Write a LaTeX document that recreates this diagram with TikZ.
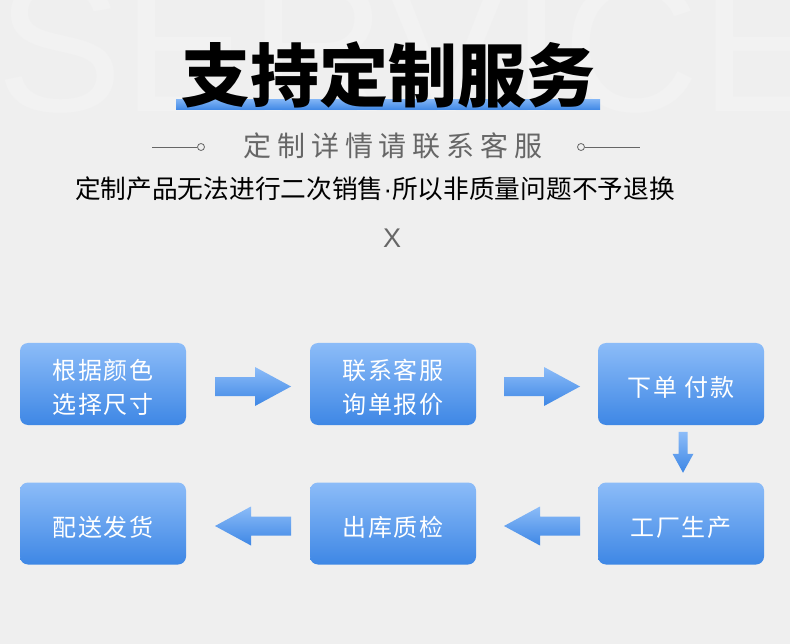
\documentclass[tikz,border=0pt]{standalone}
\usepackage{fontspec}
\setmainfont{Liberation Sans}
\newfontfamily\cjk{Noto Sans CJK SC}
\newfontfamily\cjkcaja[LetterSpace=8]{Noto Sans CJK SC}
\newfontfamily\cjksub[LetterSpace=21]{Noto Sans CJK SC}
\usetikzlibrary{calc}
\definecolor{fondo}{HTML}{EFEFEF}
\definecolor{azulclaro}{HTML}{8CBCF8}
\definecolor{azul}{HTML}{3E87E5}
\definecolor{gris}{HTML}{666666}
\newcommand\paso[1]{\raisebox{-6pt}[\height][\depth]{\begin{tabular}{@{}c@{}}#1\end{tabular}}}

\begin{document}
\begin{tikzpicture}[x=1pt, y=-1pt,
      box/.style={rounded corners=8pt, top color=azulclaro, bottom color=azul,
                  minimum width=166pt, minimum height=82pt, inner sep=0pt,
                  text=white, font=\cjkcaja\fontsize{24}{34}\selectfont},
      flecha/.pic={\path[top color=azulclaro, bottom color=azul]
          (-38,-9.5) -- (2,-9.5) -- (2,-19.5) -- (38,0) -- (2,19.5)
          -- (2,9.5) -- (-38,9.5) -- cycle;},
      flechaabajo/.pic={\path[top color=azulclaro, bottom color=azul]
          (-4.5,-20.5) -- (4.5,-20.5) -- (4.5,1.5) -- (10.5,1.5) -- (0,20.5)
          -- (-10.5,1.5) -- (-4.5,1.5) -- cycle;} ]
    \useasboundingbox[fill=fondo] (0,0) rectangle (790,644);
    % fondo: marca de agua y titulo
    \begin{scope}
      \clip (0,0) rectangle (790,644);
      \node[text=white!18!fondo, font=\fontsize{190}{190}\selectfont,
            anchor=base west, inner sep=0pt] (marca) at (-4,112) {SERVICE};
    \end{scope}
    \fill[top color=azulclaro!80!azul, bottom color=azul] (176,100) rectangle (600,110);
    \node[font=\cjk\bfseries\fontsize{69}{70}\selectfont, inner sep=0pt] (titulo) at (388,75) {支持定制服务};
    \node[text=gris, font=\cjksub\fontsize{28}{30}\selectfont, inner sep=0pt] (sub) at (393,146) {定制详情请联系客服};
    \node[draw=gris, circle, inner sep=0pt, minimum size=7pt, line width=0.8pt] (ci) at (201,147) {};
    \node[draw=gris, circle, inner sep=0pt, minimum size=7pt, line width=0.8pt] (cd) at (581,147) {};
    \coordinate (li) at (152,147);
    \coordinate (ld) at (640,147);
    \draw[gris, line width=0.8pt] (li) -- (ci.west);
    \draw[gris, line width=0.8pt] (cd.east) -- (ld);
    \node[font=\cjk\fontsize{25.7}{30}\selectfont, inner sep=0pt] (aviso) at (375,189) {定制产品无法进行二次销售{\rmfamily\mbox{·}}所以非质量问题不予退换};
    \node[text=gris, font=\fontsize{27}{30}\selectfont, inner sep=0pt] (equis) at (392,238) {X};

    % pasos
    \node[box] (b1) at (103,384)   {\paso{根据颜色\\选择尺寸}};
    \node[box] (b2) at (393,384)   {\paso{联系客服\\询单报价}};
    \node[box] (b3) at (681,384)   {\paso{下单 付款}};
    \node[box] (b4) at (681,523.5) {\paso{工厂生产}};
    \node[box] (b5) at (393,523.5) {\paso{出库质检}};
    \node[box] (b6) at (103,523.5) {\paso{配送发货}};

    \pic[shift={(5,2.5)}] at ($(b1.east)!0.5!(b2.west)$) {flecha};
    \pic[shift={(5,2.5)}] at ($(b2.east)!0.5!(b3.west)$) {flecha};
    \pic[shift={(2,-1.5)}] at ($(b3.south)!0.5!(b4.north)$) {flechaabajo};
    \pic[shift={(5,2.5)}, xscale=-1] at ($(b5.east)!0.5!(b4.west)$) {flecha};
    \pic[shift={(5,2.5)}, xscale=-1] at ($(b6.east)!0.5!(b5.west)$) {flecha};
  \end{tikzpicture}
\end{document}
